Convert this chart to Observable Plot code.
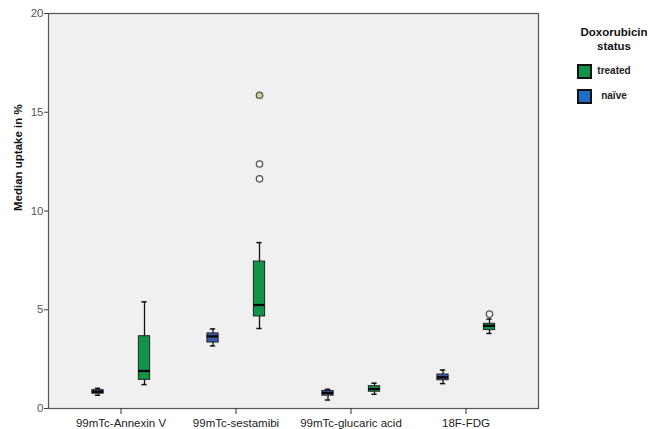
<!DOCTYPE html>
<html>
<head>
<meta charset="utf-8">
<script src="https://cdn.jsdelivr.net/npm/d3@7"></script>
<script src="https://cdn.jsdelivr.net/npm/@observablehq/plot@0.6"></script>
<style>
  html, body { margin: 0; padding: 0; background: #fff; }
  #wrap { position: relative; width: 651px; height: 429px; font-family: "Liberation Sans", Arial, sans-serif; }
  #legend { position: absolute; left: 560px; top: 25px; width: 108px; text-align: center; font-family: "Liberation Sans", Arial, sans-serif; color: #111; }
  #legend .title { font-weight: bold; font-size: 11.5px; line-height: 14px; }
  #legend .row { position: relative; height: 25px; }
  #legend .sw { position: absolute; left: 17px; width: 11px; height: 11px; border: 2px solid #111; }
  #legend .lab { position: absolute; left: 36px; width: 36px; text-align: center; font-weight: bold; font-size: 10px; color: #222; }
</style>
</head>
<body>
<div id="wrap"></div>
<script>
const categories = ["99mTc-Annexin V", "99mTc-sestamibi", "99mTc-glucaric acid", "18F-FDG"];
const statusLabels = ["treated", "naïve"];
const yTicks = [0, 5, 10, 15, 20];

// naïve series (five-number summaries)
const naiveLow    = [0.67, 3.17, 0.43, 1.26];
const naiveQ1     = [0.75, 3.34, 0.65, 1.43];
const naiveMedian = [0.85, 3.65, 0.79, 1.58];
const naiveQ3     = [0.93, 3.80, 0.89, 1.72];
const naiveHigh   = [1.02, 4.03, 0.97, 1.95];

// treated series
const treatedLow    = [1.21, 4.05, 0.72, 3.80];
const treatedQ1     = [1.45, 4.66, 0.85, 3.97];
const treatedMedian = [1.90, 5.24, 0.99, 4.19];
const treatedQ3     = [3.66, 7.44, 1.13, 4.29];
const treatedHigh   = [5.40, 8.40, 1.28, 4.53];

// outliers (treated)
const outlierCategory = ["99mTc-sestamibi", "99mTc-sestamibi", "99mTc-sestamibi", "18F-FDG"];
const outlierValue    = [15.86, 12.38, 11.63, 4.78];

const build = (lo, q1, med, q3, hi) => categories.map((c, i) => ({cat: c, lo: lo[i], q1: q1[i], med: med[i], q3: q3[i], hi: hi[i]}));
const naive = build(naiveLow, naiveQ1, naiveMedian, naiveQ3, naiveHigh);
const treated = build(treatedLow, treatedQ1, treatedMedian, treatedQ3, treatedHigh);
const outliers = outlierCategory.map((c, i) => ({cat: c, v: outlierValue[i]}));

const GREEN = "#12934a", BLUE_BOX = "#3d5aa8", BLUE_LEG = "#1f6fc8";
const BW = 115.75;
const boxInset = (BW - 12) / 2, capInset = (BW - 6) / 2;

function boxMarks(data, dx, fill) {
  return [
    Plot.ruleX(data, {x: "cat", y1: "lo", y2: "q1", dx, stroke: "#111", strokeWidth: 1.3}),
    Plot.ruleX(data, {x: "cat", y1: "q3", y2: "hi", dx, stroke: "#111", strokeWidth: 1.3}),
    Plot.tickY(data, {x: "cat", y: "lo", dx, insetLeft: capInset, insetRight: capInset, stroke: "#111", strokeWidth: 1.5}),
    Plot.tickY(data, {x: "cat", y: "hi", dx, insetLeft: capInset, insetRight: capInset, stroke: "#111", strokeWidth: 1.5}),
    Plot.barY(data, {x: "cat", y1: "q1", y2: "q3", dx, insetLeft: boxInset, insetRight: boxInset, fill, stroke: "#222", strokeWidth: 1}),
    Plot.tickY(data, {x: "cat", y: "med", dx, insetLeft: boxInset, insetRight: boxInset, stroke: "#000", strokeWidth: 2.2})
  ];
}

const chart = Plot.plot({
  width: 651,
  height: 429,
  marginLeft: 48,
  marginTop: 13,
  marginBottom: 21,
  marginRight: 113,
  style: {fontFamily: "'Liberation Sans', Arial, sans-serif", fontSize: "11.5px", background: "transparent", overflow: "visible"},
  x: {type: "band", domain: categories, range: [61, 524], padding: 0},
  y: {domain: [0, 20]},
  marks: [
    Plot.frame({fill: "#f0f0f0", stroke: "#555", strokeWidth: 1.2}),
    Plot.axisY({ticks: yTicks, tickSize: 4, tickPadding: 1, label: null, stroke: "#444", fill: "#555"}),
    Plot.axisX({tickSize: 6, tickPadding: 4, label: null, stroke: "#333", fill: "#222"}),
    Plot.text(["Median uptake in %"], {frameAnchor: "left", rotate: -90, dx: -30, fontWeight: "bold", fontSize: 11.5, fill: "#111"}),
    ...boxMarks(naive, -23, BLUE_BOX),
    ...boxMarks(treated, 23.5, GREEN),
    Plot.dot(outliers, {x: "cat", y: "v", dx: 23.5, r: 3.2, stroke: "#555", strokeWidth: 1.3, fill: (d, i) => i === 0 ? "#c9d68a" : "#f4f4f4"})
  ]
});

const wrap = document.getElementById("wrap");
wrap.appendChild(chart);

const legend = document.createElement("div");
legend.id = "legend";
const colors = {"treated": GREEN, "naïve": BLUE_LEG};
legend.innerHTML = `<div class="title">Doxorubicin<br>status</div><div style="height:11px"></div>` +
  statusLabels.map(s => `<div class="row"><div class="sw" style="background:${colors[s]}"></div><div class="lab" style="top:1px">${s}</div></div>`).join("");
wrap.appendChild(legend);
</script>
</body>
</html>
